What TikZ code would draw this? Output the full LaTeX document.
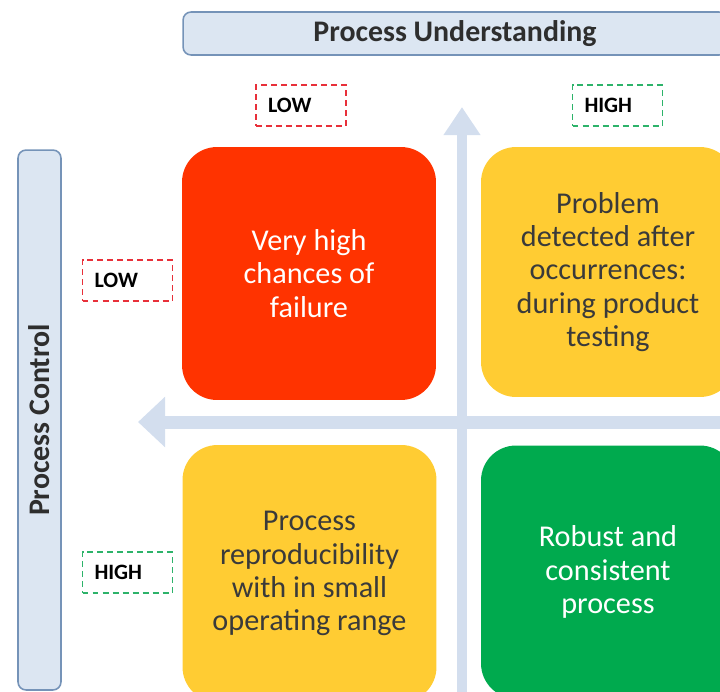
\documentclass[tikz,border=0pt]{standalone}
\usepackage{fontspec}
\setmainfont{Carlito}
\usetikzlibrary{arrows.meta}
\definecolor{barblue}{HTML}{DCE6F2}
\definecolor{bardraw}{HTML}{7593B8}
\definecolor{axisblue}{HTML}{D3DEEE}
\definecolor{myred}{HTML}{FF3300}
\definecolor{myyellow}{HTML}{FFCC33}
\definecolor{mygreen}{HTML}{00AA4E}
\definecolor{lowred}{HTML}{E8303A}
\definecolor{highgreen}{HTML}{2DB36A}
\definecolor{darktext}{HTML}{3A3A3A}
\tikzset{bar/.style={draw=bardraw, fill=barblue, line width=0.9pt, rounded corners=0.16cm, inner sep=0pt, font=\fontsize{17}{20}\selectfont\bfseries, text=darktext!80!black}}
\tikzset{level/.style={draw, dash pattern=on 3.4pt off 2.3pt, line width=0.8pt, minimum height=0.82cm, minimum width=1.8cm, inner xsep=0.24cm, text width=1.32cm, align=left, font=\fontsize{12.5}{14}\selectfont\bfseries}}
\tikzset{LOW/.style={level, draw=lowred}}
\tikzset{HIGH/.style={level, draw=highgreen}}
\tikzset{quad/.style={rounded corners=0.7cm, minimum width=5.08cm, inner sep=0pt, align=center, font=\fontsize{17.2}{18.9}\selectfont}}
\tikzset{axis/.style={draw=axisblue}}
\begin{document}
\begin{tikzpicture}[x=0.02cm, y=-0.02cm]
\useasboundingbox (0,0) rectangle (720,691);
\clip (0,0) rectangle (720,691);
% axes
\coordinate (vfoot) at (462,700);
\coordinate (vtip) at (462,107);
\coordinate (hfoot) at (730,422);
\coordinate (htip) at (138,422);
\draw[axis, line width=5.7pt, -{Triangle[length=16pt, width=20pt]}] (vfoot) -- (vtip);
\draw[axis, line width=7.4pt, -{Triangle[length=15.5pt, width=28pt]}] (hfoot) -- (htip);
% titles
\node[bar, minimum width=10.88cm, minimum height=0.86cm] (pu) at (455,33.5) {Process Understanding};
\node[bar, rotate=90, minimum width=10.8cm, minimum height=0.86cm] (pc) at (39.5,420) {Process Control};
% levels
\node[LOW] (ulow) at (301,105.5) {LOW};
\node[HIGH] (uhigh) at (617.5,105.5) {HIGH};
\node[LOW] (clow) at (127.5,280.5) {LOW};
\node[HIGH] (chigh) at (127.5,572.5) {HIGH};
% quadrants
\node[quad, fill=myred, text=white, minimum height=5.06cm] (q1) at (309,273.5) {Very high\\chances of\\failure};
\node[quad, fill=myyellow, text=darktext, minimum height=5cm] (q2) at (608,272) {Problem\\detected after\\occurrences:\\during product\\testing};
\node[quad, fill=myyellow, text=darktext, minimum height=5.14cm] (q3) at (309.5,573.5) {Process\\reproducibility\\with in small\\operating range};
\node[quad, fill=mygreen, text=white, minimum height=5.06cm] (q4) at (608,572) {Robust and\\consistent\\process};
\end{tikzpicture}
\end{document}
